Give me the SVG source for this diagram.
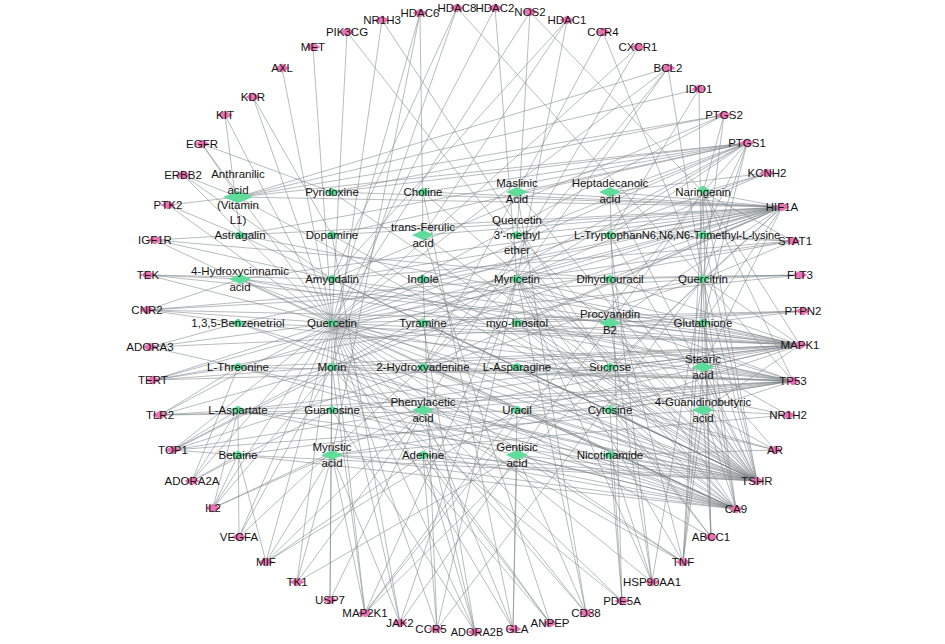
<svg xmlns="http://www.w3.org/2000/svg" width="945" height="644" viewBox="0 0 945 644">
<style>
.bg{fill:#fff}
#edges path{fill:none;stroke:#7a8286;stroke-width:0.6;stroke-opacity:0.9}
.t use{fill:#e873b0}
.c use{fill:#5fdc9a}
text{font-family:"Liberation Sans",Arial,sans-serif;font-size:11.5px;text-anchor:middle;dominant-baseline:central;fill:#141414}
.sm{font-size:11px}
</style>
<defs>
<polygon id="pd" points="0,-4.5 7.5,0 0,4.5 -7.5,0"/>
<polygon id="gs" points="0,-4.5 7,0 0,4.5 -7,0"/>
<polygon id="gm" points="0,-5 11,0 0,5 -11,0"/>
<polygon id="gL" points="0,-6 15,0 0,6 -15,0"/>
</defs>
<rect class="bg" x="0" y="0" width="945" height="644"/>
<g id="edges">
<path d="M420 13 423 235"/><path d="M420 13 332 323"/><path d="M420 13 332 455"/>
<path d="M457 8 332 279"/><path d="M457 8 703 279"/><path d="M457 8 332 367"/>
<path d="M495 8 332 323"/><path d="M495 8 517 279"/>
<path d="M530 12 517 235"/><path d="M530 12 332 323"/><path d="M530 12 703 192"/>
<path d="M567 20 332 279"/><path d="M567 20 423 235"/><path d="M567 20 517 279"/>
<path d="M603 32 423 367"/><path d="M603 32 703 279"/>
<path d="M638 47 423 410"/><path d="M638 47 332 323"/>
<path d="M668 68 238 197"/><path d="M668 68 423 367"/><path d="M668 68 332 323"/><path d="M668 68 703 279"/><path d="M668 68 517 279"/>
<path d="M699 89 238 197"/><path d="M699 89 610 235"/><path d="M699 89 703 410"/>
<path d="M724 115 238 197"/><path d="M724 115 332 192"/><path d="M724 115 332 323"/><path d="M724 115 703 192"/><path d="M724 115 703 279"/><path d="M724 115 332 279"/>
<path d="M747 143 238 197"/><path d="M747 143 332 192"/><path d="M747 143 423 192"/><path d="M747 143 517 192"/><path d="M747 143 610 192"/><path d="M747 143 703 192"/><path d="M747 143 517 235"/><path d="M747 143 610 235"/><path d="M747 143 517 279"/><path d="M747 143 703 279"/><path d="M747 143 332 323"/><path d="M747 143 703 235"/><path d="M747 143 332 367"/><path d="M747 143 703 323"/><path d="M747 143 240 235"/><path d="M747 143 332 235"/>
<path d="M767 173 703 192"/><path d="M767 173 332 323"/><path d="M767 173 610 192"/><path d="M767 173 517 279"/>
<path d="M782 207 238 197"/><path d="M782 207 240 235"/><path d="M782 207 240 279"/><path d="M782 207 332 192"/><path d="M782 207 332 235"/><path d="M782 207 332 279"/><path d="M782 207 423 192"/><path d="M782 207 423 235"/><path d="M782 207 423 279"/><path d="M782 207 517 192"/><path d="M782 207 517 235"/><path d="M782 207 517 279"/><path d="M782 207 610 192"/><path d="M782 207 610 235"/><path d="M782 207 610 279"/><path d="M782 207 703 192"/><path d="M782 207 703 235"/><path d="M782 207 703 279"/><path d="M782 207 517 323"/><path d="M782 207 610 323"/><path d="M782 207 703 323"/><path d="M782 207 332 323"/><path d="M782 207 332 367"/><path d="M782 207 703 367"/><path d="M782 207 238 323"/><path d="M782 207 238 367"/><path d="M782 207 423 367"/><path d="M782 207 610 367"/>
<path d="M793 241 332 323"/><path d="M793 241 703 192"/><path d="M793 241 703 279"/><path d="M793 241 517 279"/><path d="M793 241 703 235"/><path d="M793 241 610 235"/><path d="M793 241 332 279"/>
<path d="M800 275 703 279"/><path d="M800 275 332 323"/><path d="M800 275 517 279"/><path d="M800 275 610 279"/>
<path d="M803 311 332 323"/><path d="M803 311 703 323"/><path d="M803 311 610 323"/><path d="M803 311 517 323"/>
<path d="M800 345 332 323"/><path d="M800 345 332 367"/><path d="M800 345 517 279"/><path d="M800 345 703 279"/><path d="M800 345 703 192"/><path d="M800 345 240 235"/><path d="M800 345 240 279"/><path d="M800 345 238 323"/><path d="M800 345 238 367"/><path d="M800 345 238 410"/><path d="M800 345 332 410"/><path d="M800 345 423 410"/><path d="M800 345 517 410"/><path d="M800 345 610 410"/><path d="M800 345 703 410"/><path d="M800 345 703 367"/><path d="M800 345 703 323"/><path d="M800 345 610 323"/><path d="M800 345 517 323"/><path d="M800 345 610 367"/><path d="M800 345 517 367"/><path d="M800 345 423 367"/><path d="M800 345 423 323"/><path d="M800 345 332 279"/><path d="M800 345 423 279"/><path d="M800 345 610 279"/>
<path d="M793 381 332 323"/><path d="M793 381 332 367"/><path d="M793 381 517 279"/><path d="M793 381 703 279"/><path d="M793 381 703 192"/><path d="M793 381 332 279"/><path d="M793 381 240 279"/><path d="M793 381 238 323"/><path d="M793 381 238 367"/><path d="M793 381 238 410"/><path d="M793 381 332 410"/><path d="M793 381 423 410"/><path d="M793 381 517 410"/><path d="M793 381 610 410"/><path d="M793 381 703 410"/><path d="M793 381 703 367"/><path d="M793 381 517 323"/><path d="M793 381 610 323"/><path d="M793 381 517 367"/><path d="M793 381 423 367"/><path d="M793 381 238 455"/><path d="M793 381 332 455"/>
<path d="M788 415 703 367"/><path d="M788 415 703 410"/><path d="M788 415 332 323"/><path d="M788 415 332 455"/>
<path d="M775 450 703 367"/><path d="M775 450 703 410"/><path d="M775 450 332 323"/><path d="M775 450 610 410"/><path d="M775 450 610 455"/>
<path d="M757 481 238 197"/><path d="M757 481 240 235"/><path d="M757 481 240 279"/><path d="M757 481 238 323"/><path d="M757 481 238 367"/><path d="M757 481 238 410"/><path d="M757 481 238 455"/><path d="M757 481 332 192"/><path d="M757 481 332 235"/><path d="M757 481 332 279"/><path d="M757 481 332 323"/><path d="M757 481 332 367"/><path d="M757 481 332 410"/><path d="M757 481 332 455"/><path d="M757 481 423 192"/><path d="M757 481 423 235"/><path d="M757 481 423 279"/><path d="M757 481 423 323"/><path d="M757 481 423 367"/><path d="M757 481 423 410"/><path d="M757 481 423 455"/><path d="M757 481 517 192"/><path d="M757 481 517 235"/><path d="M757 481 517 279"/><path d="M757 481 517 323"/><path d="M757 481 517 367"/><path d="M757 481 517 410"/><path d="M757 481 517 455"/><path d="M757 481 610 192"/><path d="M757 481 610 235"/><path d="M757 481 610 279"/><path d="M757 481 610 323"/><path d="M757 481 610 367"/><path d="M757 481 610 410"/><path d="M757 481 610 455"/><path d="M757 481 703 192"/><path d="M757 481 703 235"/><path d="M757 481 703 279"/><path d="M757 481 703 323"/><path d="M757 481 703 367"/><path d="M757 481 703 410"/>
<path d="M736 509 240 279"/><path d="M736 509 238 323"/><path d="M736 509 238 367"/><path d="M736 509 238 410"/><path d="M736 509 238 455"/><path d="M736 509 332 323"/><path d="M736 509 332 367"/><path d="M736 509 332 410"/><path d="M736 509 332 455"/><path d="M736 509 423 323"/><path d="M736 509 423 367"/><path d="M736 509 423 410"/><path d="M736 509 423 455"/><path d="M736 509 517 323"/><path d="M736 509 517 367"/><path d="M736 509 517 410"/><path d="M736 509 517 455"/><path d="M736 509 610 367"/><path d="M736 509 610 410"/><path d="M736 509 610 455"/><path d="M736 509 703 367"/><path d="M736 509 703 410"/><path d="M736 509 703 323"/><path d="M736 509 610 323"/><path d="M736 509 703 279"/><path d="M736 509 517 279"/>
<path d="M711 537 703 410"/><path d="M711 537 332 323"/><path d="M711 537 517 279"/><path d="M711 537 703 279"/><path d="M711 537 703 192"/><path d="M711 537 610 410"/>
<path d="M683 562 332 323"/><path d="M683 562 703 279"/><path d="M683 562 517 279"/><path d="M683 562 703 192"/><path d="M683 562 332 367"/><path d="M683 562 703 410"/><path d="M683 562 703 367"/><path d="M683 562 517 455"/><path d="M683 562 610 279"/>
<path d="M652 582 332 323"/><path d="M652 582 517 279"/><path d="M652 582 703 279"/><path d="M652 582 610 455"/><path d="M652 582 610 323"/><path d="M652 582 610 235"/>
<path d="M622 601 610 455"/><path d="M622 601 332 323"/><path d="M622 601 332 367"/><path d="M622 601 610 410"/><path d="M622 601 610 192"/>
<path d="M586 613 332 323"/><path d="M586 613 517 455"/><path d="M586 613 517 279"/><path d="M586 613 423 410"/><path d="M586 613 517 192"/>
<path d="M550 623 332 323"/><path d="M550 623 332 367"/><path d="M550 623 423 455"/><path d="M550 623 423 235"/>
<path d="M513 629 517 455"/><path d="M513 629 332 323"/><path d="M513 629 517 410"/><path d="M513 629 423 410"/><path d="M513 629 423 192"/>
<path d="M475 632 423 455"/><path d="M475 632 423 410"/><path d="M475 632 332 323"/><path d="M475 632 332 410"/><path d="M475 632 423 323"/>
<path d="M437 629 423 455"/><path d="M437 629 332 323"/><path d="M437 629 517 279"/><path d="M437 629 703 279"/><path d="M437 629 423 279"/>
<path d="M400 623 332 323"/><path d="M400 623 332 455"/><path d="M400 623 517 279"/><path d="M400 623 703 192"/><path d="M400 623 332 235"/>
<path d="M365 613 332 323"/><path d="M365 613 517 279"/><path d="M365 613 703 279"/><path d="M365 613 703 192"/><path d="M365 613 332 367"/><path d="M365 613 517 410"/><path d="M365 613 332 455"/>
<path d="M330 600 332 323"/><path d="M330 600 332 367"/><path d="M330 600 423 410"/>
<path d="M297 582 332 323"/><path d="M297 582 423 410"/><path d="M297 582 332 455"/><path d="M297 582 517 455"/>
<path d="M266 562 238 455"/><path d="M266 562 332 323"/><path d="M266 562 332 455"/><path d="M266 562 423 455"/><path d="M266 562 423 410"/><path d="M266 562 517 410"/>
<path d="M239 537 332 323"/><path d="M239 537 332 367"/><path d="M239 537 238 410"/><path d="M239 537 517 279"/>
<path d="M213 508 238 410"/><path d="M213 508 238 455"/><path d="M213 508 332 323"/><path d="M213 508 332 367"/><path d="M213 508 332 455"/><path d="M213 508 423 410"/>
<path d="M192 481 238 410"/><path d="M192 481 238 455"/><path d="M192 481 238 367"/><path d="M192 481 332 323"/><path d="M192 481 332 410"/>
<path d="M173 450 332 323"/><path d="M173 450 517 279"/><path d="M173 450 703 279"/><path d="M173 450 238 410"/><path d="M173 450 238 455"/><path d="M173 450 332 367"/><path d="M173 450 423 410"/><path d="M173 450 703 410"/>
<path d="M160 415 332 323"/><path d="M160 415 238 410"/><path d="M160 415 332 367"/><path d="M160 415 238 367"/><path d="M160 415 332 410"/><path d="M160 415 610 410"/>
<path d="M153 380 332 323"/><path d="M153 380 332 367"/><path d="M153 380 238 367"/><path d="M153 380 517 279"/><path d="M153 380 703 279"/><path d="M153 380 610 367"/>
<path d="M150 347 332 323"/><path d="M150 347 238 323"/><path d="M150 347 238 367"/><path d="M150 347 703 323"/>
<path d="M147 310 332 323"/><path d="M147 310 238 323"/><path d="M147 310 703 323"/><path d="M147 310 703 279"/><path d="M147 310 240 279"/><path d="M147 310 517 279"/>
<path d="M148 275 332 323"/><path d="M148 275 240 279"/><path d="M148 275 332 279"/><path d="M148 275 610 323"/>
<path d="M155 240 332 323"/><path d="M155 240 240 235"/><path d="M155 240 332 279"/><path d="M155 240 610 279"/>
<path d="M168 205 332 323"/><path d="M168 205 238 197"/><path d="M168 205 240 235"/>
<path d="M183 175 332 323"/><path d="M183 175 332 279"/><path d="M183 175 238 197"/>
<path d="M202 144 332 192"/><path d="M202 144 332 323"/><path d="M202 144 238 197"/>
<path d="M225 115 332 323"/><path d="M225 115 240 235"/>
<path d="M253 97 332 323"/><path d="M253 97 332 235"/>
<path d="M282 68 332 323"/>
<path d="M313 47 332 323"/>
<path d="M347 32 332 323"/><path d="M347 32 610 367"/>
<path d="M382 20 332 367"/><path d="M382 20 610 367"/>
</g>
<g id="targets">
<g id="n-HDAC8" class="t"><use href="#pd" x="457" y="8"/><text x="457" y="8">HDAC8</text></g>
<g id="n-HDAC2" class="t"><use href="#pd" x="495" y="8"/><text x="495" y="8">HDAC2</text></g>
<g id="n-NOS2" class="t"><use href="#pd" x="530" y="12"/><text x="530" y="12">NOS2</text></g>
<g id="n-HDAC1" class="t"><use href="#pd" x="567" y="20"/><text x="567" y="20">HDAC1</text></g>
<g id="n-CCR4" class="t"><use href="#pd" x="603" y="32"/><text x="603" y="32">CCR4</text></g>
<g id="n-CXCR1" class="t"><use href="#pd" x="638" y="47"/><text x="638" y="47">CXCR1</text></g>
<g id="n-BCL2" class="t"><use href="#pd" x="668" y="68"/><text x="668" y="68">BCL2</text></g>
<g id="n-IDO1" class="t"><use href="#pd" x="699" y="89"/><text x="699" y="89">IDO1</text></g>
<g id="n-PTGS2" class="t"><use href="#pd" x="724" y="115"/><text x="724" y="115">PTGS2</text></g>
<g id="n-PTGS1" class="t"><use href="#pd" x="747" y="143"/><text x="747" y="143">PTGS1</text></g>
<g id="n-KCNH2" class="t"><use href="#pd" x="767" y="173"/><text x="767" y="173">KCNH2</text></g>
<g id="n-HIF1A" class="t"><use href="#pd" x="782" y="207"/><text x="782" y="207">HIF1A</text></g>
<g id="n-STAT1" class="t"><use href="#pd" x="793" y="241"/><text x="795" y="241">STAT1</text></g>
<g id="n-FLT3" class="t"><use href="#pd" x="800" y="275"/><text x="800" y="275">FLT3</text></g>
<g id="n-PTPN2" class="t"><use href="#pd" x="803" y="311"/><text x="803" y="311">PTPN2</text></g>
<g id="n-MAPK1" class="t"><use href="#pd" x="800" y="345"/><text x="800" y="345">MAPK1</text></g>
<g id="n-TP53" class="t"><use href="#pd" x="793" y="381"/><text x="793" y="381">TP53</text></g>
<g id="n-NR1H2" class="t"><use href="#pd" x="788" y="415"/><text x="788" y="415">NR1H2</text></g>
<g id="n-AR" class="t"><use href="#pd" x="775" y="450"/><text x="775" y="450">AR</text></g>
<g id="n-TSHR" class="t"><use href="#pd" x="757" y="481"/><text x="757" y="481">TSHR</text></g>
<g id="n-CA9" class="t"><use href="#pd" x="736" y="509"/><text x="736" y="509">CA9</text></g>
<g id="n-ABCC1" class="t"><use href="#pd" x="711" y="537"/><text x="711" y="537">ABCC1</text></g>
<g id="n-TNF" class="t"><use href="#pd" x="683" y="562"/><text x="683" y="562">TNF</text></g>
<g id="n-HSP90AA1" class="t"><use href="#pd" x="652" y="582"/><text x="652" y="582">HSP90AA1</text></g>
<g id="n-PDE5A" class="t"><use href="#pd" x="622" y="601"/><text x="622" y="601">PDE5A</text></g>
<g id="n-CD38" class="t"><use href="#pd" x="586" y="613"/><text x="586" y="613">CD38</text></g>
<g id="n-ANPEP" class="t"><use href="#pd" x="550" y="623"/><text x="550" y="623">ANPEP</text></g>
<g id="n-ADORA2B" class="t"><use href="#pd" x="475" y="632"/><text class="sm" x="477" y="632">ADORA2B</text></g>
<g id="n-GLA" class="t"><use href="#pd" x="514" y="629"/><text x="517" y="629">GLA</text></g>
<g id="n-CCR5" class="t"><use href="#pd" x="436" y="629"/><text x="431" y="629">CCR5</text></g>
<g id="n-JAK2" class="t"><use href="#pd" x="400" y="623"/><text x="400" y="623">JAK2</text></g>
<g id="n-MAP2K1" class="t"><use href="#pd" x="365" y="613"/><text x="365" y="613">MAP2K1</text></g>
<g id="n-USP7" class="t"><use href="#pd" x="330" y="600"/><text x="330" y="600">USP7</text></g>
<g id="n-TK1" class="t"><use href="#pd" x="297" y="582"/><text x="297" y="582">TK1</text></g>
<g id="n-MIF" class="t"><use href="#pd" x="266" y="562"/><text x="266" y="562">MIF</text></g>
<g id="n-VEGFA" class="t"><use href="#pd" x="239" y="537"/><text x="239" y="537">VEGFA</text></g>
<g id="n-IL2" class="t"><use href="#pd" x="213" y="508"/><text x="213" y="508">IL2</text></g>
<g id="n-ADORA2A" class="t"><use href="#pd" x="192" y="481"/><text x="192" y="481">ADORA2A</text></g>
<g id="n-TOP1" class="t"><use href="#pd" x="173" y="450"/><text x="173" y="450">TOP1</text></g>
<g id="n-TLR2" class="t"><use href="#pd" x="160" y="415"/><text x="160" y="415">TLR2</text></g>
<g id="n-TERT" class="t"><use href="#pd" x="153" y="380"/><text x="153" y="380">TERT</text></g>
<g id="n-ADORA3" class="t"><use href="#pd" x="150" y="347"/><text x="150" y="347">ADORA3</text></g>
<g id="n-CNR2" class="t"><use href="#pd" x="147" y="310"/><text x="147" y="310">CNR2</text></g>
<g id="n-TEK" class="t"><use href="#pd" x="148" y="275"/><text x="148" y="275">TEK</text></g>
<g id="n-IGF1R" class="t"><use href="#pd" x="155" y="240"/><text x="155" y="240">IGF1R</text></g>
<g id="n-PTK2" class="t"><use href="#pd" x="168" y="205"/><text x="168" y="205">PTK2</text></g>
<g id="n-ERBB2" class="t"><use href="#pd" x="183" y="175"/><text x="183" y="175">ERBB2</text></g>
<g id="n-EGFR" class="t"><use href="#pd" x="202" y="144"/><text x="202" y="144">EGFR</text></g>
<g id="n-KIT" class="t"><use href="#pd" x="225" y="115"/><text x="225" y="115">KIT</text></g>
<g id="n-KDR" class="t"><use href="#pd" x="253" y="97"/><text x="253" y="97">KDR</text></g>
<g id="n-AXL" class="t"><use href="#pd" x="282" y="68"/><text x="282" y="68">AXL</text></g>
<g id="n-MET" class="t"><use href="#pd" x="313" y="47"/><text x="313" y="47">MET</text></g>
<g id="n-PIK3CG" class="t"><use href="#pd" x="347" y="32"/><text x="347" y="32">PIK3CG</text></g>
<g id="n-NR1H3" class="t"><use href="#pd" x="382" y="20"/><text x="382" y="20">NR1H3</text></g>
<g id="n-HDAC6" class="t"><use href="#pd" x="420" y="13"/><text x="420" y="13">HDAC6</text></g>
</g>
<g id="compounds">
<g id="n-anthranilic" class="c"><use href="#gL" x="238" y="197"/><text x="238" y="174">Anthranilic</text><text x="238" y="190">acid</text><text x="238" y="205">(Vitamin</text><text x="238" y="220">L1)</text></g>
<g id="n-pyridoxine" class="c"><use href="#gs" x="332" y="192"/><text x="332" y="192">Pyridoxine</text></g>
<g id="n-choline" class="c"><use href="#gs" x="423" y="192"/><text x="423" y="192">Choline</text></g>
<g id="n-maslinic" class="c"><use href="#gm" x="517" y="192"/><text x="517" y="183">Maslinic</text><text x="517" y="199">Acid</text></g>
<g id="n-heptadecanoic" class="c"><use href="#gm" x="610" y="192"/><text x="610" y="183">Heptadecanoic</text><text x="610" y="199">acid</text></g>
<g id="n-naringenin" class="c"><use href="#gs" x="703" y="190"/><text x="703" y="192">Naringenin</text></g>
<g id="n-astragalin" class="c"><use href="#gs" x="240" y="235"/><text x="240" y="235">Astragalin</text></g>
<g id="n-dopamine" class="c"><use href="#gs" x="332" y="235"/><text x="332" y="235">Dopamine</text></g>
<g id="n-ferulic" class="c"><use href="#gm" x="423" y="235"/><text x="423" y="227">trans-Ferulic</text><text x="423" y="243">acid</text></g>
<g id="n-q3me" class="c"><use href="#gs" x="517" y="235"/><text x="517" y="220">Quercetin</text><text x="517" y="235">3'-methyl</text><text x="517" y="250">ether</text></g>
<g id="n-tryptophan" class="c"><use href="#gs" x="610" y="235"/><text x="608" y="235">L-Tryptophan</text></g>
<g id="n-trimethyllysine" class="c"><use href="#gs" x="703" y="235"/><text class="sm" x="711" y="235">N6,N6,N6-Trimethyl-L-lysine</text></g>
<g id="n-hydroxycinnamic" class="c"><use href="#gm" x="240" y="279"/><text x="240" y="271">4-Hydroxycinnamic</text><text x="240" y="287">acid</text></g>
<g id="n-amygdalin" class="c"><use href="#gs" x="332" y="279"/><text x="332" y="279">Amygdalin</text></g>
<g id="n-indole" class="c"><use href="#gs" x="423" y="279"/><text x="423" y="279">Indole</text></g>
<g id="n-myricetin" class="c"><use href="#gs" x="517" y="279"/><text x="517" y="279">Myricetin</text></g>
<g id="n-dihydrouracil" class="c"><use href="#gs" x="610" y="279"/><text x="610" y="279">Dihydrouracil</text></g>
<g id="n-quercitrin" class="c"><use href="#gs" x="703" y="279"/><text x="703" y="279">Quercitrin</text></g>
<g id="n-benzenetriol" class="c"><use href="#gs" x="238" y="323"/><text x="238" y="323">1,3,5-Benzenetriol</text></g>
<g id="n-quercetin" class="c"><use href="#gs" x="332" y="323"/><text x="332" y="323">Quercetin</text></g>
<g id="n-tyramine" class="c"><use href="#gs" x="423" y="323"/><text x="423" y="323">Tyramine</text></g>
<g id="n-inositol" class="c"><use href="#gs" x="517" y="323"/><text x="517" y="323">myo-Inositol</text></g>
<g id="n-procyanidin" class="c"><use href="#gm" x="610" y="323"/><text x="610" y="314">Procyanidin</text><text x="610" y="330">B2</text></g>
<g id="n-glutathione" class="c"><use href="#gs" x="703" y="323"/><text x="703" y="323">Glutathione</text></g>
<g id="n-threonine" class="c"><use href="#gs" x="238" y="367"/><text x="238" y="367">L-Threonine</text></g>
<g id="n-morin" class="c"><use href="#gs" x="332" y="367"/><text x="332" y="367">Morin</text></g>
<g id="n-hydroxyadenine" class="c"><use href="#gs" x="423" y="367"/><text x="423" y="367">2-Hydroxyadenine</text></g>
<g id="n-asparagine" class="c"><use href="#gs" x="517" y="367"/><text x="517" y="367">L-Asparagine</text></g>
<g id="n-sucrose" class="c"><use href="#gs" x="610" y="367"/><text x="610" y="367">Sucrose</text></g>
<g id="n-stearic" class="c"><use href="#gm" x="703" y="367"/><text x="703" y="359">Stearic</text><text x="703" y="375">acid</text></g>
<g id="n-aspartate" class="c"><use href="#gs" x="238" y="410"/><text x="238" y="410">L-Aspartate</text></g>
<g id="n-guanosine" class="c"><use href="#gs" x="332" y="410"/><text x="332" y="410">Guanosine</text></g>
<g id="n-phenylacetic" class="c"><use href="#gm" x="423" y="410"/><text x="423" y="402">Phenylacetic</text><text x="423" y="418">acid</text></g>
<g id="n-uracil" class="c"><use href="#gs" x="517" y="410"/><text x="517" y="410">Uracil</text></g>
<g id="n-cytosine" class="c"><use href="#gs" x="610" y="410"/><text x="610" y="410">Cytosine</text></g>
<g id="n-guanidinobutyric" class="c"><use href="#gm" x="703" y="410"/><text x="703" y="402">4-Guanidinobutyric</text><text x="703" y="418">acid</text></g>
<g id="n-betaine" class="c"><use href="#gs" x="238" y="455"/><text x="238" y="455">Betaine</text></g>
<g id="n-myristic" class="c"><use href="#gm" x="332" y="455"/><text x="332" y="447">Myristic</text><text x="332" y="463">acid</text></g>
<g id="n-adenine" class="c"><use href="#gs" x="423" y="455"/><text x="423" y="455">Adenine</text></g>
<g id="n-gentisic" class="c"><use href="#gm" x="517" y="455"/><text x="517" y="447">Gentisic</text><text x="517" y="463">acid</text></g>
<g id="n-nicotinamide" class="c"><use href="#gs" x="610" y="455"/><text x="610" y="455">Nicotinamide</text></g>
</g>
</svg>
